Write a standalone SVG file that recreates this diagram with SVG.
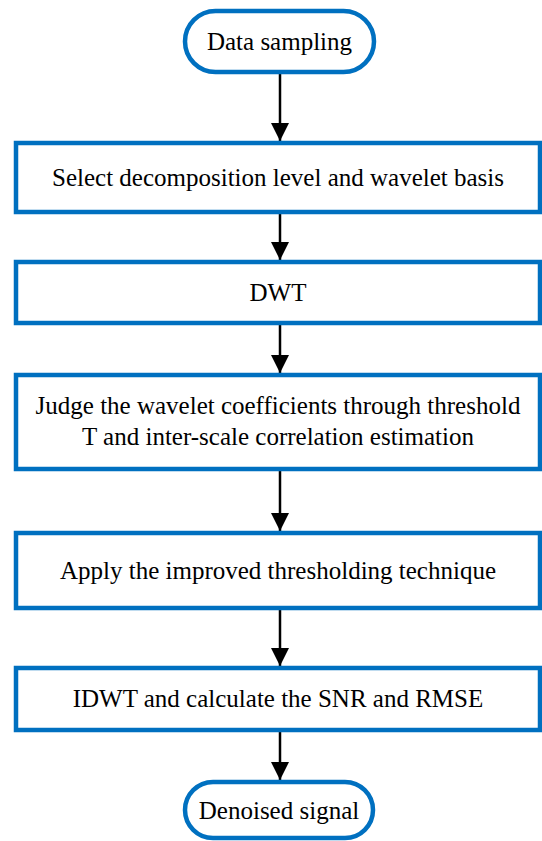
<svg xmlns="http://www.w3.org/2000/svg" width="542" height="841" viewBox="0 0 542 841">
<defs>
<style>
.box{fill:#fff;stroke:#0070C0;stroke-width:4.5}
.c{stroke:#000;stroke-width:2.5;fill:none}
</style>
<marker id="ah2" viewBox="0 0 18 18" refX="18" refY="9" markerWidth="18" markerHeight="18" orient="auto" markerUnits="userSpaceOnUse">
<path d="M0,0 L18,9 L0,18 z" fill="#000"/>
</marker>
</defs>
<g id="connectors">
<line class="c" x1="280" y1="73" x2="280" y2="141" marker-end="url(#ah2)"/>
<line class="c" x1="280" y1="214" x2="280" y2="260" marker-end="url(#ah2)"/>
<line class="c" x1="280" y1="324" x2="280" y2="373" marker-end="url(#ah2)"/>
<line class="c" x1="280" y1="471" x2="280" y2="531" marker-end="url(#ah2)"/>
<line class="c" x1="280" y1="610" x2="280" y2="666" marker-end="url(#ah2)"/>
<line class="c" x1="280" y1="732" x2="280" y2="780" marker-end="url(#ah2)"/>
</g>
<g font-family="Liberation Serif, Times New Roman, DejaVu Serif, serif" font-size="25" fill="#000" text-anchor="middle">
<g id="start">
<rect class="box" x="185" y="11" width="189" height="61" rx="30.5"/>
<text x="279.5" y="50">Data sampling</text>
</g>
<g id="select">
<rect class="box" x="16" y="143" width="524" height="69"/>
<text x="278" y="186">Select decomposition level and wavelet basis</text>
</g>
<g id="dwt">
<rect class="box" x="16" y="262" width="524" height="61"/>
<text x="278" y="301">DWT</text>
</g>
<g id="judge">
<rect class="box" x="16" y="375" width="524" height="94"/>
<text x="278" y="414">Judge the wavelet coefficients through threshold</text>
<text x="278" y="445">T and inter-scale correlation estimation</text>
</g>
<g id="apply">
<rect class="box" x="16" y="533" width="524" height="75"/>
<text x="278" y="579">Apply the improved thresholding technique</text>
</g>
<g id="idwt">
<rect class="box" x="16" y="668" width="524" height="62"/>
<text x="278" y="707">IDWT and calculate the SNR and RMSE</text>
</g>
<g id="end">
<rect class="box" x="185" y="782" width="188" height="56" rx="28"/>
<text x="279" y="819">Denoised signal</text>
</g>
</g>
</svg>
